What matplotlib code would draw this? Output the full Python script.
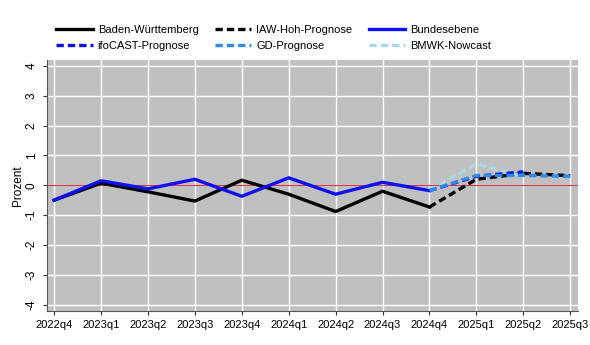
import matplotlib.pyplot as plt

plt.rcParams['font.family'] = ['Liberation Sans', 'DejaVu Sans']

# Quarters on the x axis
quarters = ['2022q4', '2023q1', '2023q2', '2023q3', '2023q4', '2024q1',
            '2024q2', '2024q3', '2024q4', '2025q1', '2025q2', '2025q3']

# Observed growth rates (quarter-on-quarter, percent)
bw = [-0.5, 0.07, -0.22, -0.53, 0.17, -0.3, -0.88, -0.2, -0.73]
bund = [-0.5, 0.15, -0.12, 0.2, -0.37, 0.25, -0.3, 0.1, -0.18]

# Forecasts, starting from the last observed quarter
iaw = [-0.73, 0.2, 0.4, 0.32]
ifocast = [-0.18, 0.3, 0.45]
gd = [-0.18, 0.33, 0.33, 0.3]
bmwk = [-0.18, 0.72, 0.3]

x = list(range(len(quarters)))
x_obs = x[:len(bw)]
x_fc = x[len(bw) - 1:]

fig = plt.figure(figsize=(5.9, 3.45), dpi=100)
ax = fig.add_axes([0.079, 0.1, 0.901, 0.726])
ax.set_facecolor('#c0c0c0')

ax.axhline(0, color='#c8404a', lw=0.9, zorder=2)

dash = (0, (2.2, 1.2))
ax.plot(x_obs, bw, color='black', lw=2.4, label='Baden-Württemberg', zorder=3)
ax.plot(x_fc, iaw, color='black', lw=2.4, ls=dash, label='IAW-Hoh-Prognose', zorder=3)
ax.plot(x_obs, bund, color='#1010f0', lw=2.4, label='Bundesebene', zorder=4)
ax.plot(x_fc[:len(ifocast)], ifocast, color='#1010e0', lw=2.4, ls=dash,
        label='ifoCAST-Prognose', zorder=4)
ax.plot(x_fc, gd, color='#2a8cf0', lw=2.4, ls=dash, label='GD-Prognose', zorder=4)
ax.plot(x_fc[:len(bmwk)], bmwk, color='#add8e6', lw=2.4, ls=dash,
        label='BMWK-Nowcast', zorder=3)

ax.set_xlim(-0.16, len(quarters) - 1 + 0.17)
ax.set_ylim(-4.2, 4.2)
ax.set_xticks(x)
ax.set_xticklabels(quarters, fontsize=8)
ax.set_yticks(range(-4, 5))
ax.set_yticklabels([str(v) for v in range(-4, 5)], fontsize=8.5, rotation=90, va='center')
ax.set_ylabel('Prozent', fontsize=8.5, labelpad=1)

ax.grid(True, color='white', lw=1)
ax.set_axisbelow(True)
for side in ['top', 'right']:
    ax.spines[side].set_visible(False)
for side in ['left', 'bottom']:
    ax.spines[side].set_color('#555555')
ax.tick_params(colors='#333333', length=3, labelcolor='black')

# Legend filled row by row: three columns, two rows
handles, labels = ax.get_legend_handles_labels()
order = [0, 3, 1, 4, 2, 5]
fig.legend([handles[i] for i in order], [labels[i] for i in order],
           ncol=3, loc='upper left', bbox_to_anchor=(0.078, 0.956), frameon=False,
           fontsize=8, handlelength=3.3, columnspacing=1.45, handletextpad=0.45,
           labelspacing=0.55)

fig.savefig('out.png', dpi=100)
